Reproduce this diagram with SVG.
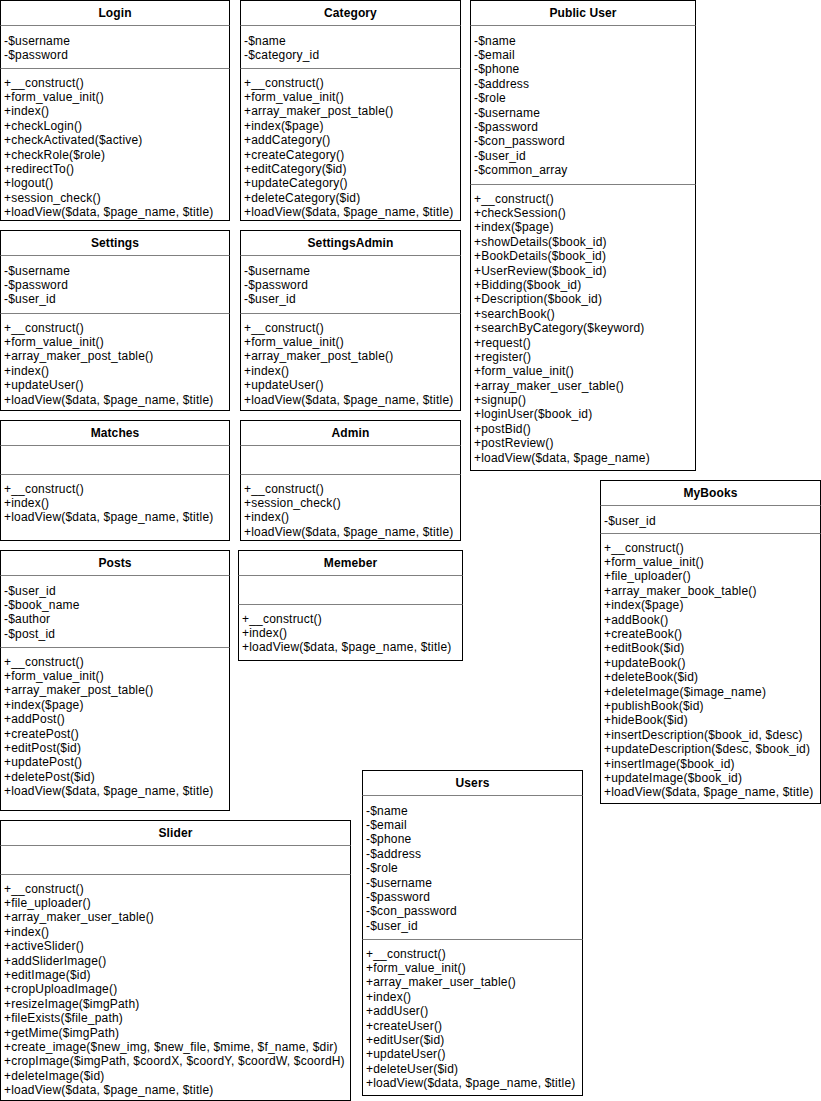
<svg xmlns="http://www.w3.org/2000/svg" width="821" height="1101" viewBox="0 0 821 1101">
<style>
.box{fill:#fff;stroke:#000;stroke-width:1}
.sep{stroke:#808080;stroke-width:1}
.ttl{font-family:"Liberation Sans",Arial,Helvetica,sans-serif;font-size:12px;font-weight:bold;fill:#000;text-anchor:middle;letter-spacing:0.1px}
.txt{font-family:"Liberation Sans",Arial,Helvetica,sans-serif;font-size:12px;fill:#000;letter-spacing:0.2px}
</style>
<rect x="0" y="0" width="821" height="1101" fill="#fff"/>
<g id="connectors"/>

<g id="login">
<rect class="box" x="0.5" y="0.5" width="229" height="220"/>
<line class="sep" x1="0.5" y1="25.5" x2="229.5" y2="25.5"/>
<line class="sep" x1="0.5" y1="68.5" x2="229.5" y2="68.5"/>
<text class="ttl" x="115" y="16.5">Login</text>
<text class="txt" x="4" y="44.5"><tspan x="4">-$username</tspan><tspan x="4" dy="14.4">-$password</tspan></text>
<text class="txt" x="4" y="86.5"><tspan x="4">+__construct()</tspan><tspan x="4" dy="14.4">+form_value_init()</tspan><tspan x="4" dy="14.4">+index()</tspan><tspan x="4" dy="14.4">+checkLogin()</tspan><tspan x="4" dy="14.4">+checkActivated($active)</tspan><tspan x="4" dy="14.4">+checkRole($role)</tspan><tspan x="4" dy="14.4">+redirectTo()</tspan><tspan x="4" dy="14.4">+logout()</tspan><tspan x="4" dy="14.4">+session_check()</tspan><tspan x="4" dy="14.4">+loadView($data, $page_name, $title)</tspan></text>
</g>

<g id="category">
<rect class="box" x="240.5" y="0.5" width="220" height="220"/>
<line class="sep" x1="240.5" y1="25.5" x2="460.5" y2="25.5"/>
<line class="sep" x1="240.5" y1="68.5" x2="460.5" y2="68.5"/>
<text class="ttl" x="350.5" y="16.5">Category</text>
<text class="txt" x="244" y="44.5"><tspan x="244">-$name</tspan><tspan x="244" dy="14.4">-$category_id</tspan></text>
<text class="txt" x="244" y="86.5"><tspan x="244">+__construct()</tspan><tspan x="244" dy="14.4">+form_value_init()</tspan><tspan x="244" dy="14.4">+array_maker_post_table()</tspan><tspan x="244" dy="14.4">+index($page)</tspan><tspan x="244" dy="14.4">+addCategory()</tspan><tspan x="244" dy="14.4">+createCategory()</tspan><tspan x="244" dy="14.4">+editCategory($id)</tspan><tspan x="244" dy="14.4">+updateCategory()</tspan><tspan x="244" dy="14.4">+deleteCategory($id)</tspan><tspan x="244" dy="14.4">+loadView($data, $page_name, $title)</tspan></text>
</g>

<g id="public-user">
<rect class="box" x="470.5" y="0.5" width="225" height="470"/>
<line class="sep" x1="470.5" y1="25.5" x2="695.5" y2="25.5"/>
<line class="sep" x1="470.5" y1="184.5" x2="695.5" y2="184.5"/>
<text class="ttl" x="583" y="16.5">Public User</text>
<text class="txt" x="474" y="44.5"><tspan x="474">-$name</tspan><tspan x="474" dy="14.4">-$email</tspan><tspan x="474" dy="14.4">-$phone</tspan><tspan x="474" dy="14.4">-$address</tspan><tspan x="474" dy="14.4">-$role</tspan><tspan x="474" dy="14.4">-$username</tspan><tspan x="474" dy="14.4">-$password</tspan><tspan x="474" dy="14.4">-$con_password</tspan><tspan x="474" dy="14.4">-$user_id</tspan><tspan x="474" dy="14.4">-$common_array</tspan></text>
<text class="txt" x="474" y="202.5"><tspan x="474">+__construct()</tspan><tspan x="474" dy="14.4">+checkSession()</tspan><tspan x="474" dy="14.4">+index($page)</tspan><tspan x="474" dy="14.4">+showDetails($book_id)</tspan><tspan x="474" dy="14.4">+BookDetails($book_id)</tspan><tspan x="474" dy="14.4">+UserReview($book_id)</tspan><tspan x="474" dy="14.4">+Bidding($book_id)</tspan><tspan x="474" dy="14.4">+Description($book_id)</tspan><tspan x="474" dy="14.4">+searchBook()</tspan><tspan x="474" dy="14.4">+searchByCategory($keyword)</tspan><tspan x="474" dy="14.4">+request()</tspan><tspan x="474" dy="14.4">+register()</tspan><tspan x="474" dy="14.4">+form_value_init()</tspan><tspan x="474" dy="14.4">+array_maker_user_table()</tspan><tspan x="474" dy="14.4">+signup()</tspan><tspan x="474" dy="14.4">+loginUser($book_id)</tspan><tspan x="474" dy="14.4">+postBid()</tspan><tspan x="474" dy="14.4">+postReview()</tspan><tspan x="474" dy="14.4">+loadView($data, $page_name)</tspan></text>
</g>

<g id="settings">
<rect class="box" x="0.5" y="230.5" width="229" height="180"/>
<line class="sep" x1="0.5" y1="255.5" x2="229.5" y2="255.5"/>
<line class="sep" x1="0.5" y1="313.5" x2="229.5" y2="313.5"/>
<text class="ttl" x="115" y="246.5">Settings</text>
<text class="txt" x="4" y="274.5"><tspan x="4">-$username</tspan><tspan x="4" dy="14.4">-$password</tspan><tspan x="4" dy="14.4">-$user_id</tspan></text>
<text class="txt" x="4" y="331.5"><tspan x="4">+__construct()</tspan><tspan x="4" dy="14.4">+form_value_init()</tspan><tspan x="4" dy="14.4">+array_maker_post_table()</tspan><tspan x="4" dy="14.4">+index()</tspan><tspan x="4" dy="14.4">+updateUser()</tspan><tspan x="4" dy="14.4">+loadView($data, $page_name, $title)</tspan></text>
</g>

<g id="settings-admin">
<rect class="box" x="240.5" y="230.5" width="220" height="180"/>
<line class="sep" x1="240.5" y1="255.5" x2="460.5" y2="255.5"/>
<line class="sep" x1="240.5" y1="313.5" x2="460.5" y2="313.5"/>
<text class="ttl" x="350.5" y="246.5">SettingsAdmin</text>
<text class="txt" x="244" y="274.5"><tspan x="244">-$username</tspan><tspan x="244" dy="14.4">-$password</tspan><tspan x="244" dy="14.4">-$user_id</tspan></text>
<text class="txt" x="244" y="331.5"><tspan x="244">+__construct()</tspan><tspan x="244" dy="14.4">+form_value_init()</tspan><tspan x="244" dy="14.4">+array_maker_post_table()</tspan><tspan x="244" dy="14.4">+index()</tspan><tspan x="244" dy="14.4">+updateUser()</tspan><tspan x="244" dy="14.4">+loadView($data, $page_name, $title)</tspan></text>
</g>

<g id="matches">
<rect class="box" x="0.5" y="420.5" width="229" height="120"/>
<line class="sep" x1="0.5" y1="445.5" x2="229.5" y2="445.5"/>
<line class="sep" x1="0.5" y1="474.5" x2="229.5" y2="474.5"/>
<text class="ttl" x="115" y="436.5">Matches</text>
<text class="txt" x="4" y="492.5"><tspan x="4">+__construct()</tspan><tspan x="4" dy="14.4">+index()</tspan><tspan x="4" dy="14.4">+loadView($data, $page_name, $title)</tspan></text>
</g>

<g id="admin">
<rect class="box" x="240.5" y="420.5" width="220" height="120"/>
<line class="sep" x1="240.5" y1="445.5" x2="460.5" y2="445.5"/>
<line class="sep" x1="240.5" y1="474.5" x2="460.5" y2="474.5"/>
<text class="ttl" x="350.5" y="436.5">Admin</text>
<text class="txt" x="244" y="492.5"><tspan x="244">+__construct()</tspan><tspan x="244" dy="14.4">+session_check()</tspan><tspan x="244" dy="14.4">+index()</tspan><tspan x="244" dy="14.4">+loadView($data, $page_name, $title)</tspan></text>
</g>

<g id="posts">
<rect class="box" x="0.5" y="550.5" width="229" height="260"/>
<line class="sep" x1="0.5" y1="575.5" x2="229.5" y2="575.5"/>
<line class="sep" x1="0.5" y1="647.5" x2="229.5" y2="647.5"/>
<text class="ttl" x="115" y="566.5">Posts</text>
<text class="txt" x="4" y="594.5"><tspan x="4">-$user_id</tspan><tspan x="4" dy="14.4">-$book_name</tspan><tspan x="4" dy="14.4">-$author</tspan><tspan x="4" dy="14.4">-$post_id</tspan></text>
<text class="txt" x="4" y="665.5"><tspan x="4">+__construct()</tspan><tspan x="4" dy="14.4">+form_value_init()</tspan><tspan x="4" dy="14.4">+array_maker_post_table()</tspan><tspan x="4" dy="14.4">+index($page)</tspan><tspan x="4" dy="14.4">+addPost()</tspan><tspan x="4" dy="14.4">+createPost()</tspan><tspan x="4" dy="14.4">+editPost($id)</tspan><tspan x="4" dy="14.4">+updatePost()</tspan><tspan x="4" dy="14.4">+deletePost($id)</tspan><tspan x="4" dy="14.4">+loadView($data, $page_name, $title)</tspan></text>
</g>

<g id="memeber">
<rect class="box" x="238.5" y="550.5" width="224" height="110"/>
<line class="sep" x1="238.5" y1="575.5" x2="462.5" y2="575.5"/>
<line class="sep" x1="238.5" y1="604.5" x2="462.5" y2="604.5"/>
<text class="ttl" x="350.5" y="566.5">Memeber</text>
<text class="txt" x="242" y="622.5"><tspan x="242">+__construct()</tspan><tspan x="242" dy="14.4">+index()</tspan><tspan x="242" dy="14.4">+loadView($data, $page_name, $title)</tspan></text>
</g>

<g id="mybooks">
<rect class="box" x="600.5" y="480.5" width="220" height="323"/>
<line class="sep" x1="600.5" y1="505.5" x2="820.5" y2="505.5"/>
<line class="sep" x1="600.5" y1="533.5" x2="820.5" y2="533.5"/>
<text class="ttl" x="710.5" y="496.5">MyBooks</text>
<text class="txt" x="604" y="524.5">-$user_id</text>
<text class="txt" x="604" y="551.5"><tspan x="604">+__construct()</tspan><tspan x="604" dy="14.4">+form_value_init()</tspan><tspan x="604" dy="14.4">+file_uploader()</tspan><tspan x="604" dy="14.4">+array_maker_book_table()</tspan><tspan x="604" dy="14.4">+index($page)</tspan><tspan x="604" dy="14.4">+addBook()</tspan><tspan x="604" dy="14.4">+createBook()</tspan><tspan x="604" dy="14.4">+editBook($id)</tspan><tspan x="604" dy="14.4">+updateBook()</tspan><tspan x="604" dy="14.4">+deleteBook($id)</tspan><tspan x="604" dy="14.4">+deleteImage($image_name)</tspan><tspan x="604" dy="14.4">+publishBook($id)</tspan><tspan x="604" dy="14.4">+hideBook($id)</tspan><tspan x="604" dy="14.4">+insertDescription($book_id, $desc)</tspan><tspan x="604" dy="14.4">+updateDescription($desc, $book_id)</tspan><tspan x="604" dy="14.4">+insertImage($book_id)</tspan><tspan x="604" dy="14.4">+updateImage($book_id)</tspan><tspan x="604" dy="14.4">+loadView($data, $page_name, $title)</tspan></text>
</g>

<g id="users">
<rect class="box" x="362.5" y="770.5" width="220" height="325"/>
<line class="sep" x1="362.5" y1="795.5" x2="582.5" y2="795.5"/>
<line class="sep" x1="362.5" y1="939.5" x2="582.5" y2="939.5"/>
<text class="ttl" x="472.5" y="786.5">Users</text>
<text class="txt" x="366" y="814.5"><tspan x="366">-$name</tspan><tspan x="366" dy="14.4">-$email</tspan><tspan x="366" dy="14.4">-$phone</tspan><tspan x="366" dy="14.4">-$address</tspan><tspan x="366" dy="14.4">-$role</tspan><tspan x="366" dy="14.4">-$username</tspan><tspan x="366" dy="14.4">-$password</tspan><tspan x="366" dy="14.4">-$con_password</tspan><tspan x="366" dy="14.4">-$user_id</tspan></text>
<text class="txt" x="366" y="957.5"><tspan x="366">+__construct()</tspan><tspan x="366" dy="14.4">+form_value_init()</tspan><tspan x="366" dy="14.4">+array_maker_user_table()</tspan><tspan x="366" dy="14.4">+index()</tspan><tspan x="366" dy="14.4">+addUser()</tspan><tspan x="366" dy="14.4">+createUser()</tspan><tspan x="366" dy="14.4">+editUser($id)</tspan><tspan x="366" dy="14.4">+updateUser()</tspan><tspan x="366" dy="14.4">+deleteUser($id)</tspan><tspan x="366" dy="14.4">+loadView($data, $page_name, $title)</tspan></text>
</g>

<g id="slider">
<rect class="box" x="0.5" y="820.5" width="350" height="280"/>
<line class="sep" x1="0.5" y1="845.5" x2="350.5" y2="845.5"/>
<line class="sep" x1="0.5" y1="874.5" x2="350.5" y2="874.5"/>
<text class="ttl" x="175.5" y="836.5">Slider</text>
<text class="txt" x="4" y="892.5"><tspan x="4">+__construct()</tspan><tspan x="4" dy="14.4">+file_uploader()</tspan><tspan x="4" dy="14.4">+array_maker_user_table()</tspan><tspan x="4" dy="14.4">+index()</tspan><tspan x="4" dy="14.4">+activeSlider()</tspan><tspan x="4" dy="14.4">+addSliderImage()</tspan><tspan x="4" dy="14.4">+editImage($id)</tspan><tspan x="4" dy="14.4">+cropUploadImage()</tspan><tspan x="4" dy="14.4">+resizeImage($imgPath)</tspan><tspan x="4" dy="14.4">+fileExists($file_path)</tspan><tspan x="4" dy="14.4">+getMime($imgPath)</tspan><tspan x="4" dy="14.4">+create_image($new_img, $new_file, $mime, $f_name, $dir)</tspan><tspan x="4" dy="14.4">+cropImage($imgPath, $coordX, $coordY, $coordW, $coordH)</tspan><tspan x="4" dy="14.4">+deleteImage($id)</tspan><tspan x="4" dy="14.4">+loadView($data, $page_name, $title)</tspan></text>
</g>
</svg>
